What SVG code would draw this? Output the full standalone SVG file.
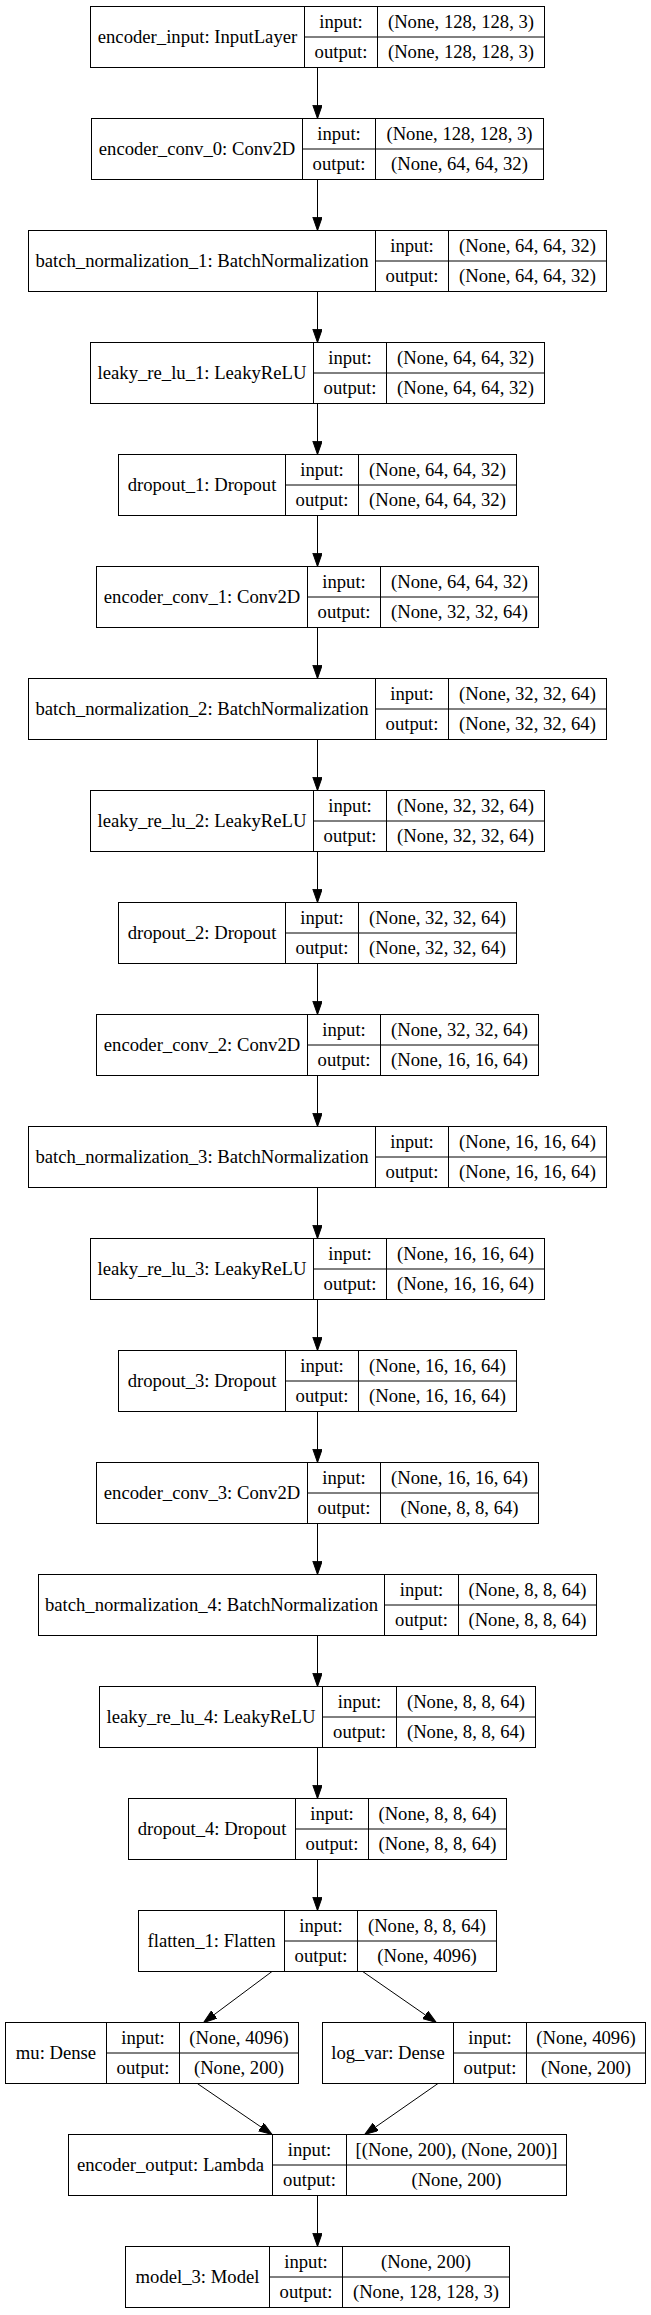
<svg xmlns="http://www.w3.org/2000/svg" width="651" height="2315" viewBox="0 0 651 2315">
<style>
rect{fill:#fff;stroke:#000;stroke-width:1}
.n line{stroke:#000;stroke-width:1}
text{font-family:"Liberation Serif","Times New Roman",serif;font-size:18.67px;fill:#000;text-anchor:middle}
#edges line{stroke:#000;stroke-width:1;marker-end:url(#ah)}
</style>
<defs>
<marker id="ah" markerUnits="userSpaceOnUse" markerWidth="14" markerHeight="10" refX="13.33" refY="4.67" orient="auto"><path d="M0,0 L13.33,4.67 L0,9.33 z" fill="#000" stroke="#000" stroke-width="1"/></marker>
</defs>
<rect x="0" y="0" width="651" height="2315" style="stroke:none"/>
<g id="edges">
<line x1="317.5" y1="67.5" x2="317.5" y2="118.5"/>
<line x1="317.5" y1="179.5" x2="317.5" y2="230.5"/>
<line x1="317.5" y1="291.5" x2="317.5" y2="342.5"/>
<line x1="317.5" y1="403.5" x2="317.5" y2="454.5"/>
<line x1="317.5" y1="515.5" x2="317.5" y2="566.5"/>
<line x1="317.5" y1="627.5" x2="317.5" y2="678.5"/>
<line x1="317.5" y1="739.5" x2="317.5" y2="790.5"/>
<line x1="317.5" y1="851.5" x2="317.5" y2="902.5"/>
<line x1="317.5" y1="963.5" x2="317.5" y2="1014.5"/>
<line x1="317.5" y1="1075.5" x2="317.5" y2="1126.5"/>
<line x1="317.5" y1="1187.5" x2="317.5" y2="1238.5"/>
<line x1="317.5" y1="1299.5" x2="317.5" y2="1350.5"/>
<line x1="317.5" y1="1411.5" x2="317.5" y2="1462.5"/>
<line x1="317.5" y1="1523.5" x2="317.5" y2="1574.5"/>
<line x1="317.5" y1="1635.5" x2="317.5" y2="1686.5"/>
<line x1="317.5" y1="1747.5" x2="317.5" y2="1798.5"/>
<line x1="317.5" y1="1859.5" x2="317.5" y2="1910.5"/>
<line x1="272" y1="1971.5" x2="203.6" y2="2022.5"/>
<line x1="362.7" y1="1971.5" x2="436.2" y2="2022.5"/>
<line x1="197.3" y1="2083.5" x2="272" y2="2134.5"/>
<line x1="438" y1="2083.5" x2="364.8" y2="2134.5"/>
<line x1="317.5" y1="2195.5" x2="317.5" y2="2246.5"/>
</g>
<g id="encoder_input" class="n" transform="translate(0,6.5)"><rect x="90.5" y="0" width="454" height="61"/><line x1="304.5" y1="0" x2="304.5" y2="61"/><line x1="377.5" y1="0" x2="377.5" y2="61"/><line x1="304.5" y1="30.5" x2="544.5" y2="30.5"/><text x="197.5" y="36">encoder_input: InputLayer</text><text x="341" y="21">input:</text><text x="341" y="51.5">output:</text><text x="461" y="21">(None, 128, 128, 3)</text><text x="461" y="51.5">(None, 128, 128, 3)</text></g>
<g id="encoder_conv_0" class="n" transform="translate(0,118.5)"><rect x="91.5" y="0" width="452" height="61"/><line x1="302.5" y1="0" x2="302.5" y2="61"/><line x1="375.5" y1="0" x2="375.5" y2="61"/><line x1="302.5" y1="30.5" x2="543.5" y2="30.5"/><text x="197" y="36">encoder_conv_0: Conv2D</text><text x="339" y="21">input:</text><text x="339" y="51.5">output:</text><text x="459.5" y="21">(None, 128, 128, 3)</text><text x="459.5" y="51.5">(None, 64, 64, 32)</text></g>
<g id="batch_normalization_1" class="n" transform="translate(0,230.5)"><rect x="28.5" y="0" width="578" height="61"/><line x1="375.5" y1="0" x2="375.5" y2="61"/><line x1="448.5" y1="0" x2="448.5" y2="61"/><line x1="375.5" y1="30.5" x2="606.5" y2="30.5"/><text x="202" y="36">batch_normalization_1: BatchNormalization</text><text x="412" y="21">input:</text><text x="412" y="51.5">output:</text><text x="527.5" y="21">(None, 64, 64, 32)</text><text x="527.5" y="51.5">(None, 64, 64, 32)</text></g>
<g id="leaky_re_lu_1" class="n" transform="translate(0,342.5)"><rect x="90.5" y="0" width="454" height="61"/><line x1="313.5" y1="0" x2="313.5" y2="61"/><line x1="386.5" y1="0" x2="386.5" y2="61"/><line x1="313.5" y1="30.5" x2="544.5" y2="30.5"/><text x="202" y="36">leaky_re_lu_1: LeakyReLU</text><text x="350" y="21">input:</text><text x="350" y="51.5">output:</text><text x="465.5" y="21">(None, 64, 64, 32)</text><text x="465.5" y="51.5">(None, 64, 64, 32)</text></g>
<g id="dropout_1" class="n" transform="translate(0,454.5)"><rect x="118.5" y="0" width="398" height="61"/><line x1="285.5" y1="0" x2="285.5" y2="61"/><line x1="358.5" y1="0" x2="358.5" y2="61"/><line x1="285.5" y1="30.5" x2="516.5" y2="30.5"/><text x="202" y="36">dropout_1: Dropout</text><text x="322" y="21">input:</text><text x="322" y="51.5">output:</text><text x="437.5" y="21">(None, 64, 64, 32)</text><text x="437.5" y="51.5">(None, 64, 64, 32)</text></g>
<g id="encoder_conv_1" class="n" transform="translate(0,566.5)"><rect x="96.5" y="0" width="442" height="61"/><line x1="307.5" y1="0" x2="307.5" y2="61"/><line x1="380.5" y1="0" x2="380.5" y2="61"/><line x1="307.5" y1="30.5" x2="538.5" y2="30.5"/><text x="202" y="36">encoder_conv_1: Conv2D</text><text x="344" y="21">input:</text><text x="344" y="51.5">output:</text><text x="459.5" y="21">(None, 64, 64, 32)</text><text x="459.5" y="51.5">(None, 32, 32, 64)</text></g>
<g id="batch_normalization_2" class="n" transform="translate(0,678.5)"><rect x="28.5" y="0" width="578" height="61"/><line x1="375.5" y1="0" x2="375.5" y2="61"/><line x1="448.5" y1="0" x2="448.5" y2="61"/><line x1="375.5" y1="30.5" x2="606.5" y2="30.5"/><text x="202" y="36">batch_normalization_2: BatchNormalization</text><text x="412" y="21">input:</text><text x="412" y="51.5">output:</text><text x="527.5" y="21">(None, 32, 32, 64)</text><text x="527.5" y="51.5">(None, 32, 32, 64)</text></g>
<g id="leaky_re_lu_2" class="n" transform="translate(0,790.5)"><rect x="90.5" y="0" width="454" height="61"/><line x1="313.5" y1="0" x2="313.5" y2="61"/><line x1="386.5" y1="0" x2="386.5" y2="61"/><line x1="313.5" y1="30.5" x2="544.5" y2="30.5"/><text x="202" y="36">leaky_re_lu_2: LeakyReLU</text><text x="350" y="21">input:</text><text x="350" y="51.5">output:</text><text x="465.5" y="21">(None, 32, 32, 64)</text><text x="465.5" y="51.5">(None, 32, 32, 64)</text></g>
<g id="dropout_2" class="n" transform="translate(0,902.5)"><rect x="118.5" y="0" width="398" height="61"/><line x1="285.5" y1="0" x2="285.5" y2="61"/><line x1="358.5" y1="0" x2="358.5" y2="61"/><line x1="285.5" y1="30.5" x2="516.5" y2="30.5"/><text x="202" y="36">dropout_2: Dropout</text><text x="322" y="21">input:</text><text x="322" y="51.5">output:</text><text x="437.5" y="21">(None, 32, 32, 64)</text><text x="437.5" y="51.5">(None, 32, 32, 64)</text></g>
<g id="encoder_conv_2" class="n" transform="translate(0,1014.5)"><rect x="96.5" y="0" width="442" height="61"/><line x1="307.5" y1="0" x2="307.5" y2="61"/><line x1="380.5" y1="0" x2="380.5" y2="61"/><line x1="307.5" y1="30.5" x2="538.5" y2="30.5"/><text x="202" y="36">encoder_conv_2: Conv2D</text><text x="344" y="21">input:</text><text x="344" y="51.5">output:</text><text x="459.5" y="21">(None, 32, 32, 64)</text><text x="459.5" y="51.5">(None, 16, 16, 64)</text></g>
<g id="batch_normalization_3" class="n" transform="translate(0,1126.5)"><rect x="28.5" y="0" width="578" height="61"/><line x1="375.5" y1="0" x2="375.5" y2="61"/><line x1="448.5" y1="0" x2="448.5" y2="61"/><line x1="375.5" y1="30.5" x2="606.5" y2="30.5"/><text x="202" y="36">batch_normalization_3: BatchNormalization</text><text x="412" y="21">input:</text><text x="412" y="51.5">output:</text><text x="527.5" y="21">(None, 16, 16, 64)</text><text x="527.5" y="51.5">(None, 16, 16, 64)</text></g>
<g id="leaky_re_lu_3" class="n" transform="translate(0,1238.5)"><rect x="90.5" y="0" width="454" height="61"/><line x1="313.5" y1="0" x2="313.5" y2="61"/><line x1="386.5" y1="0" x2="386.5" y2="61"/><line x1="313.5" y1="30.5" x2="544.5" y2="30.5"/><text x="202" y="36">leaky_re_lu_3: LeakyReLU</text><text x="350" y="21">input:</text><text x="350" y="51.5">output:</text><text x="465.5" y="21">(None, 16, 16, 64)</text><text x="465.5" y="51.5">(None, 16, 16, 64)</text></g>
<g id="dropout_3" class="n" transform="translate(0,1350.5)"><rect x="118.5" y="0" width="398" height="61"/><line x1="285.5" y1="0" x2="285.5" y2="61"/><line x1="358.5" y1="0" x2="358.5" y2="61"/><line x1="285.5" y1="30.5" x2="516.5" y2="30.5"/><text x="202" y="36">dropout_3: Dropout</text><text x="322" y="21">input:</text><text x="322" y="51.5">output:</text><text x="437.5" y="21">(None, 16, 16, 64)</text><text x="437.5" y="51.5">(None, 16, 16, 64)</text></g>
<g id="encoder_conv_3" class="n" transform="translate(0,1462.5)"><rect x="96.5" y="0" width="442" height="61"/><line x1="307.5" y1="0" x2="307.5" y2="61"/><line x1="380.5" y1="0" x2="380.5" y2="61"/><line x1="307.5" y1="30.5" x2="538.5" y2="30.5"/><text x="202" y="36">encoder_conv_3: Conv2D</text><text x="344" y="21">input:</text><text x="344" y="51.5">output:</text><text x="459.5" y="21">(None, 16, 16, 64)</text><text x="459.5" y="51.5">(None, 8, 8, 64)</text></g>
<g id="batch_normalization_4" class="n" transform="translate(0,1574.5)"><rect x="38.5" y="0" width="558" height="61"/><line x1="384.5" y1="0" x2="384.5" y2="61"/><line x1="458.5" y1="0" x2="458.5" y2="61"/><line x1="384.5" y1="30.5" x2="596.5" y2="30.5"/><text x="211.5" y="36">batch_normalization_4: BatchNormalization</text><text x="421.5" y="21">input:</text><text x="421.5" y="51.5">output:</text><text x="527.5" y="21">(None, 8, 8, 64)</text><text x="527.5" y="51.5">(None, 8, 8, 64)</text></g>
<g id="leaky_re_lu_4" class="n" transform="translate(0,1686.5)"><rect x="99.5" y="0" width="436" height="61"/><line x1="322.5" y1="0" x2="322.5" y2="61"/><line x1="396.5" y1="0" x2="396.5" y2="61"/><line x1="322.5" y1="30.5" x2="535.5" y2="30.5"/><text x="211" y="36">leaky_re_lu_4: LeakyReLU</text><text x="359.5" y="21">input:</text><text x="359.5" y="51.5">output:</text><text x="466" y="21">(None, 8, 8, 64)</text><text x="466" y="51.5">(None, 8, 8, 64)</text></g>
<g id="dropout_4" class="n" transform="translate(0,1798.5)"><rect x="128.5" y="0" width="378" height="61"/><line x1="295.5" y1="0" x2="295.5" y2="61"/><line x1="368.5" y1="0" x2="368.5" y2="61"/><line x1="295.5" y1="30.5" x2="506.5" y2="30.5"/><text x="212" y="36">dropout_4: Dropout</text><text x="332" y="21">input:</text><text x="332" y="51.5">output:</text><text x="437.5" y="21">(None, 8, 8, 64)</text><text x="437.5" y="51.5">(None, 8, 8, 64)</text></g>
<g id="flatten_1" class="n" transform="translate(0,1910.5)"><rect x="138.5" y="0" width="358" height="61"/><line x1="284.5" y1="0" x2="284.5" y2="61"/><line x1="357.5" y1="0" x2="357.5" y2="61"/><line x1="284.5" y1="30.5" x2="496.5" y2="30.5"/><text x="211.5" y="36">flatten_1: Flatten</text><text x="321" y="21">input:</text><text x="321" y="51.5">output:</text><text x="427" y="21">(None, 8, 8, 64)</text><text x="427" y="51.5">(None, 4096)</text></g>
<g id="mu" class="n" transform="translate(0,2022.5)"><rect x="5.5" y="0" width="293" height="61"/><line x1="106.5" y1="0" x2="106.5" y2="61"/><line x1="179.5" y1="0" x2="179.5" y2="61"/><line x1="106.5" y1="30.5" x2="298.5" y2="30.5"/><text x="56" y="36">mu: Dense</text><text x="143" y="21">input:</text><text x="143" y="51.5">output:</text><text x="239" y="21">(None, 4096)</text><text x="239" y="51.5">(None, 200)</text></g>
<g id="log_var" class="n" transform="translate(0,2022.5)"><rect x="322.5" y="0" width="323" height="61"/><line x1="453.5" y1="0" x2="453.5" y2="61"/><line x1="526.5" y1="0" x2="526.5" y2="61"/><line x1="453.5" y1="30.5" x2="645.5" y2="30.5"/><text x="388" y="36">log_var: Dense</text><text x="490" y="21">input:</text><text x="490" y="51.5">output:</text><text x="586" y="21">(None, 4096)</text><text x="586" y="51.5">(None, 200)</text></g>
<g id="encoder_output" class="n" transform="translate(0,2134.5)"><rect x="68.5" y="0" width="498" height="61"/><line x1="272.5" y1="0" x2="272.5" y2="61"/><line x1="346.5" y1="0" x2="346.5" y2="61"/><line x1="272.5" y1="30.5" x2="566.5" y2="30.5"/><text x="170.5" y="36">encoder_output: Lambda</text><text x="309.5" y="21">input:</text><text x="309.5" y="51.5">output:</text><text x="456.5" y="21">[(None, 200), (None, 200)]</text><text x="456.5" y="51.5">(None, 200)</text></g>
<g id="model_3" class="n" transform="translate(0,2246.5)"><rect x="125.5" y="0" width="384" height="61"/><line x1="269.5" y1="0" x2="269.5" y2="61"/><line x1="342.5" y1="0" x2="342.5" y2="61"/><line x1="269.5" y1="30.5" x2="509.5" y2="30.5"/><text x="197.5" y="36">model_3: Model</text><text x="306" y="21">input:</text><text x="306" y="51.5">output:</text><text x="426" y="21">(None, 200)</text><text x="426" y="51.5">(None, 128, 128, 3)</text></g>
</svg>
